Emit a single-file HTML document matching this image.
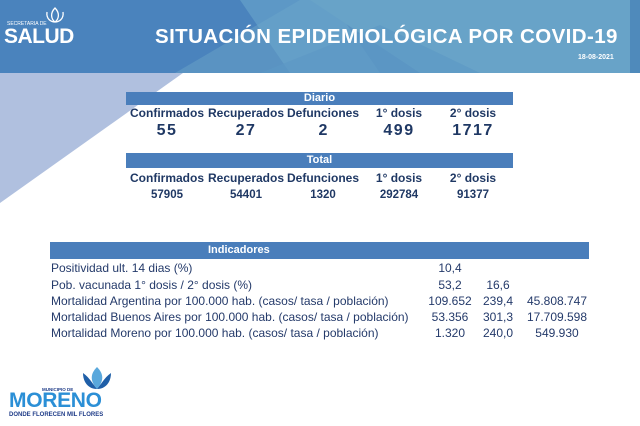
<!DOCTYPE html>
<html><head><meta charset="utf-8"><style>
body{margin:0;width:640px;height:426px;overflow:hidden;background:#fff;font-family:"Liberation Sans",sans-serif;position:relative}
.a{position:absolute;white-space:nowrap}
.c{transform:translateX(-50%)}
.h{font-weight:bold;color:#1f3864}
.bar{position:absolute;background:#4a7ebb;color:#fff;font-weight:bold;font-size:11px;text-align:center}
.r{color:#243a6a;font-size:12px}
</style></head><body>
<svg class="a" style="left:0;top:0" width="640" height="210">
<rect x="0" y="0" width="640" height="73" fill="#5a93c2"/>
<polygon points="0,0 300,0 175,73 0,73" fill="#4a83bd"/>
<polygon points="240,0 330,0 380,73 290,73" fill="#6aa6cc" opacity="0.6"/>
<polygon points="310,0 640,0 640,73 420,73" fill="#68a3c8"/>
<polygon points="380,25 480,73 260,73" fill="#5b97c4" opacity="0.6"/>
<polygon points="0,73 183,73 0,203" fill="#b0c0df"/>
<rect x="630" y="0" width="10" height="73" fill="#4f8abb"/>
</svg>
<div class="a" style="left:7px;top:21px;color:#fff;font-size:5px">SECRETARIA DE</div>
<div class="a" style="left:4px;top:25px;color:#fff;font-size:21px;font-weight:bold;letter-spacing:-0.5px">SALUD</div>
<svg class="a" style="left:44px;top:6px" width="22" height="20"><path d="M11 2 C6 7 7 13 11 16 C15 13 16 7 11 2Z M3 6 C2 13 7 16 11 16 M19 6 C20 13 15 16 11 16" stroke="#fff" fill="none" stroke-width="1.3"/></svg>
<div class="a" style="left:155px;top:25px;color:#fff;font-size:20.5px;font-weight:bold;letter-spacing:0.4px">SITUACIÓN EPIDEMIOLÓGICA POR COVID-19</div>
<div class="a" style="left:578px;top:54px;color:#fff;font-size:7px;font-weight:bold">18-08-2021</div>

<div class="bar" style="left:126px;top:92px;width:387px;height:13px;line-height:13px">Diario</div>
<div class="bar" style="left:126px;top:153px;width:387px;height:15px;line-height:15px">Total</div>
<div class="a h c" style="left:167px;top:106px;font-size:12px">Confirmados</div>
<div class="a h c" style="left:246px;top:106px;font-size:12px">Recuperados</div>
<div class="a h c" style="left:323px;top:106px;font-size:12px">Defunciones</div>
<div class="a h c" style="left:399px;top:106px;font-size:12px">1° dosis</div>
<div class="a h c" style="left:473px;top:106px;font-size:12px">2° dosis</div>
<div class="a h c" style="left:167px;top:122px;font-size:16px;letter-spacing:1.5px">55</div>
<div class="a h c" style="left:246px;top:122px;font-size:16px;letter-spacing:1.5px">27</div>
<div class="a h c" style="left:323px;top:122px;font-size:16px">2</div>
<div class="a h c" style="left:399px;top:122px;font-size:16px;letter-spacing:1.5px">499</div>
<div class="a h c" style="left:473px;top:122px;font-size:16px;letter-spacing:1.5px">1717</div>
<div class="a h c" style="left:167px;top:171px;font-size:12px">Confirmados</div>
<div class="a h c" style="left:246px;top:171px;font-size:12px">Recuperados</div>
<div class="a h c" style="left:323px;top:171px;font-size:12px">Defunciones</div>
<div class="a h c" style="left:399px;top:171px;font-size:12px">1° dosis</div>
<div class="a h c" style="left:473px;top:171px;font-size:12px">2° dosis</div>
<div class="a h c" style="left:167px;top:189px;font-size:11.5px">57905</div>
<div class="a h c" style="left:246px;top:189px;font-size:11.5px">54401</div>
<div class="a h c" style="left:323px;top:189px;font-size:11.5px">1320</div>
<div class="a h c" style="left:399px;top:189px;font-size:11.5px">292784</div>
<div class="a h c" style="left:473px;top:189px;font-size:11.5px">91377</div>

<div class="bar" style="left:50px;top:242px;width:539px;height:17px;line-height:17px;text-align:left"><span style="margin-left:158px">Indicadores</span></div>
<div class="a r" style="left:51px;top:261px">Positividad ult. 14 dias (%)</div>
<div class="a r" style="left:51px;top:278px">Pob. vacunada 1° dosis / 2° dosis (%)</div>
<div class="a r" style="left:51px;top:294px">Mortalidad Argentina por 100.000 hab. (casos/ tasa / población)</div>
<div class="a r" style="left:51px;top:310px">Mortalidad Buenos Aires por 100.000 hab. (casos/ tasa / población)</div>
<div class="a r" style="left:51px;top:326px">Mortalidad Moreno por 100.000 hab. (casos/ tasa / población)</div>
<div class="a r c" style="left:450px;top:261px">10,4</div>
<div class="a r c" style="left:450px;top:278px">53,2</div>
<div class="a r c" style="left:498px;top:278px">16,6</div>
<div class="a r c" style="left:450px;top:294px">109.652</div>
<div class="a r c" style="left:498px;top:294px">239,4</div>
<div class="a r c" style="left:557px;top:294px">45.808.747</div>
<div class="a r c" style="left:450px;top:310px">53.356</div>
<div class="a r c" style="left:498px;top:310px">301,3</div>
<div class="a r c" style="left:557px;top:310px">17.709.598</div>
<div class="a r c" style="left:450px;top:326px">1.320</div>
<div class="a r c" style="left:498px;top:326px">240,0</div>
<div class="a r c" style="left:557px;top:326px">549.930</div>

<svg class="a" style="left:80px;top:365px" width="34" height="28"><path d="M17 2 C10 9 10 16 17 24 C24 16 24 9 17 2Z" fill="#5aa8dc"/><path d="M3 8 C3 18 9 24 17 24 C12 18 9 12 3 8Z M31 8 C31 18 25 24 17 24 C22 18 25 12 31 8Z" fill="#1f5fa8"/></svg>
<div class="a" style="left:42px;top:387px;color:#1f3c88;font-size:4.5px;font-weight:bold">MUNICIPIO DE</div>
<div class="a" style="left:9px;top:389px;color:#2b8fd6;font-size:21px;font-weight:bold;letter-spacing:-0.3px">MORENO</div>
<div class="a" style="left:9px;top:412px;color:#1f3c88;font-size:6px;font-weight:bold">DONDE FLORECEN MIL FLORES</div>
</body></html>
